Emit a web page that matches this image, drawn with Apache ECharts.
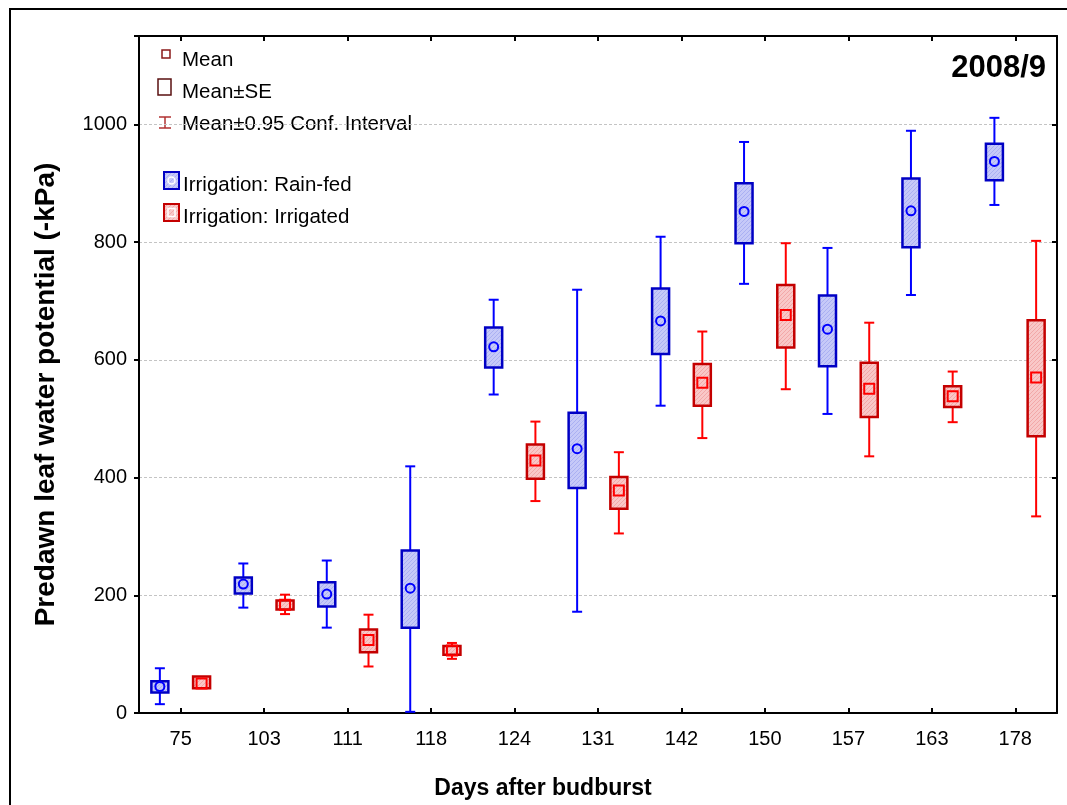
<!DOCTYPE html>
<html>
<head>
<meta charset="utf-8">
<title>Predawn leaf water potential 2008/9</title>
<script src="https://cdn.jsdelivr.net/npm/echarts@6/dist/echarts.min.js"></script>
<style>
  html, body { margin: 0; padding: 0; background: #fff; }
  #chart { width: 1067px; height: 805px; }
</style>
</head>
<body>
<div id="chart"></div>
<script>
// x categories: days after budburst
const days = ['75', '103', '111', '118', '124', '131', '142', '150', '157', '163', '178']
const yTicks = [0, 200, 400, 600, 800, 1000]

// Rain-fed: mean, mean±SE, mean±0.95 conf. interval
const rainMean = [45, 219, 202, 212, 622, 449, 666, 852, 652, 853, 937]
const rainSeLo = [35, 203, 181, 145, 587, 382, 610, 798, 589, 791, 905]
const rainSeHi = [54, 230, 222, 276, 655, 510, 721, 900, 709, 908, 967]
const rainCiLo = [15, 179, 145, 2, 541, 172, 522, 729, 508, 710, 863]
const rainCiHi = [76, 254, 259, 419, 702, 719, 809, 970, 790, 989, 1011]

// Irrigated
const irrMean = [50, 184, 124, 106, 429, 378, 561, 676, 551, 538, 570]
const irrSeLo = [42, 176, 103, 99, 398, 347, 522, 621, 503, 520, 470]
const irrSeHi = [62, 191, 142, 114, 456, 401, 593, 727, 595, 555, 667]
const irrCiLo = [49, 168, 79, 92, 360, 305, 467, 550, 436, 494, 334]
const irrCiHi = [51, 201, 167, 119, 495, 443, 648, 798, 663, 580, 802]

const FONT = 'Liberation Sans, Arial, sans-serif'

// small canvas tile for the hatched box fill
function hatch (bg, line) {
  const c = document.createElement('canvas')
  c.width = 4
  c.height = 4
  const g = c.getContext('2d')
  g.fillStyle = bg
  g.fillRect(0, 0, 4, 4)
  g.strokeStyle = line
  g.lineWidth = 1
  g.beginPath()
  g.moveTo(0, 4); g.lineTo(4, 0)
  g.moveTo(-1, 1); g.lineTo(1, -1)
  g.moveTo(3, 5); g.lineTo(5, 3)
  g.stroke()
  return c
}

const blue = { whisker: '#0000ff', box: '#0000c4', marker: '#0000ff', pattern: hatch('#c6c9f8', '#aab0f2'), shape: 'circle' }
const red = { whisker: '#ff0000', box: '#c40000', marker: '#ff0000', pattern: hatch('#f9c8c8', '#f2a8a8'), shape: 'square' }

function buildData (mean, seLo, seHi, ciLo, ciHi) {
  return days.map((d, i) => [i, mean[i], seLo[i], seHi[i], ciLo[i], ciHi[i]])
}

// box = mean±SE, whiskers = mean±CI, marker = mean
function makeRender (side, c) {
  return function (params, api) {
    const i = api.value(0)
    const band = api.size([1, 0])[0]
    const x = api.coord([i, 0])[0] + side * band * 0.25
    const y = (k) => api.coord([i, api.value(k)])[1]
    const yMean = y(1)
    const seLo = y(2)
    const seHi = y(3)
    const ciLo = y(4)
    const ciHi = y(5)
    const bw = 17
    const cw = 10
    const ws = { stroke: c.whisker, lineWidth: 2 }
    const children = [
      { type: 'line', shape: { x1: x, y1: ciLo, x2: x, y2: ciHi }, style: ws },
      { type: 'line', shape: { x1: x - cw / 2, y1: ciLo, x2: x + cw / 2, y2: ciLo }, style: ws },
      { type: 'line', shape: { x1: x - cw / 2, y1: ciHi, x2: x + cw / 2, y2: ciHi }, style: ws },
      {
        type: 'rect',
        shape: { x: x - bw / 2, y: seHi, width: bw, height: seLo - seHi },
        style: { fill: { image: c.pattern, repeat: 'repeat' }, stroke: c.box, lineWidth: 2.5 }
      }
    ]
    if (c.shape === 'circle') {
      children.push({ type: 'circle', shape: { cx: x, cy: yMean, r: 4.5 }, style: { fill: 'none', stroke: c.marker, lineWidth: 2 } })
    } else {
      children.push({ type: 'rect', shape: { x: x - 5, y: yMean - 5, width: 10, height: 10 }, style: { fill: 'none', stroke: c.marker, lineWidth: 2 } })
    }
    return { type: 'group', children }
  }
}

const chart = echarts.init(document.getElementById('chart'))

const axisLine = { show: true, onZero: false, lineStyle: { color: '#000', width: 2 } }

// legend drawn as graphics in the upper left of the plot
const legendText = (txt, x, y) => ({
  type: 'text', left: x, top: y - 11,
  style: { text: txt, font: '20.5px ' + FONT, fill: '#000' }
})

const option = {
  animation: false,
  title: {
    text: '2008/9',
    right: 16,
    top: 48,
    textStyle: { fontFamily: FONT, fontSize: 31, fontWeight: 'bold', color: '#000' }
  },
  grid: { left: 139, right: 10, top: 36, bottom: 92 },
  xAxis: [
    {
      type: 'category',
      data: days,
      name: 'Days after budburst',
      nameLocation: 'middle',
      nameGap: 64,
      nameTextStyle: { fontFamily: FONT, fontSize: 23, fontWeight: 'bold', color: '#000', padding: [0, 110, 0, 0] },
      axisLine,
      axisTick: { show: true, inside: true, alignWithLabel: true, length: 5, lineStyle: { color: '#000', width: 2 } },
      axisLabel: { fontFamily: FONT, fontSize: 20, color: '#000', margin: 16 },
      splitLine: { show: false }
    },
    {
      type: 'category',
      data: days,
      position: 'top',
      axisLine,
      axisTick: { show: true, inside: true, alignWithLabel: true, length: 5, lineStyle: { color: '#000', width: 2 } },
      axisLabel: { show: false },
      splitLine: { show: false }
    }
  ],
  yAxis: [
    {
      type: 'value',
      min: 0,
      max: 1150,
      interval: 200,
      name: 'Predawn leaf water potential (-kPa)',
      nameLocation: 'middle',
      nameGap: 79,
      nameTextStyle: { fontFamily: FONT, fontSize: 28, fontWeight: 'bold', color: '#000', padding: [0, 40, 0, 0] },
      axisLine,
      axisTick: { show: true, length: 5, lineStyle: { color: '#000', width: 2 } },
      axisLabel: {
        fontFamily: FONT, fontSize: 20, color: '#000', margin: 12,
        formatter: (v) => (yTicks.includes(v) ? String(v) : '')
      },
      splitLine: { show: true, lineStyle: { color: '#c4c4c4', width: 1, type: [3, 2] } }
    },
    {
      type: 'value',
      min: 0,
      max: 1150,
      interval: 200,
      position: 'right',
      axisLine,
      axisTick: { show: true, inside: true, length: 5, lineStyle: { color: '#000', width: 2 } },
      axisLabel: { show: false },
      splitLine: { show: false }
    }
  ],
  series: [
    {
      name: 'Irrigation: Rain-fed',
      type: 'custom',
      renderItem: makeRender(-1, blue),
      encode: { x: 0, y: [1, 2, 3, 4, 5] },
      data: buildData(rainMean, rainSeLo, rainSeHi, rainCiLo, rainCiHi),
      z: 3
    },
    {
      name: 'Irrigation: Irrigated',
      type: 'custom',
      renderItem: makeRender(1, red),
      encode: { x: 0, y: [1, 2, 3, 4, 5] },
      data: buildData(irrMean, irrSeLo, irrSeHi, irrCiLo, irrCiHi),
      z: 3
    }
  ],
  graphic: [
    // outer frame of the figure
    { type: 'rect', shape: { x: 10, y: 9, width: 1100, height: 900 }, style: { fill: 'none', stroke: '#000', lineWidth: 2 }, silent: true },
    // Mean
    { type: 'rect', shape: { x: 162, y: 50, width: 8, height: 8 }, style: { fill: '#fff', stroke: '#8b1a1a', lineWidth: 1.5 } },
    legendText('Mean', 182, 61),
    // Mean±SE
    { type: 'rect', shape: { x: 158, y: 79, width: 13, height: 16 }, style: { fill: 'none', stroke: '#5a1010', lineWidth: 1.5 } },
    legendText('Mean±SE', 182, 93),
    // Mean±CI
    { type: 'polyline', shape: { points: [[159, 117], [171, 117]] }, style: { stroke: '#b03030', lineWidth: 1.5 } },
    { type: 'polyline', shape: { points: [[165, 117], [165, 128]] }, style: { stroke: '#b03030', lineWidth: 1.5 } },
    { type: 'polyline', shape: { points: [[159, 128], [171, 128]] }, style: { stroke: '#b03030', lineWidth: 1.5 } },
    legendText('Mean±0.95 Conf. Interval', 182, 125),
    // Rain-fed
    { type: 'rect', shape: { x: 164, y: 172, width: 15, height: 17 }, style: { fill: { image: blue.pattern, repeat: 'repeat' }, stroke: blue.box, lineWidth: 2 } },
    { type: 'circle', shape: { cx: 171.5, cy: 180.5, r: 3.5 }, style: { fill: 'none', stroke: '#ffffff', lineWidth: 1.5 } },
    legendText('Irrigation: Rain-fed', 183, 186),
    // Irrigated
    { type: 'rect', shape: { x: 164, y: 204, width: 15, height: 17 }, style: { fill: { image: red.pattern, repeat: 'repeat' }, stroke: red.box, lineWidth: 2 } },
    { type: 'rect', shape: { x: 168, y: 208.5, width: 7, height: 8 }, style: { fill: 'none', stroke: '#ffffff', lineWidth: 1.5 } },
    legendText('Irrigation: Irrigated', 183, 218)
  ]
}

chart.setOption(option)
</script>
</body>
</html>
